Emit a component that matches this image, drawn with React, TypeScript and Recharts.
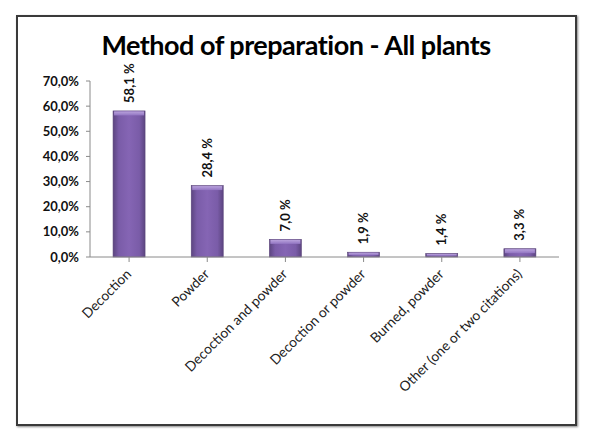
import React from 'react'
import { Bar, BarChart, LabelList, XAxis, YAxis } from 'recharts'

const methods = [
  'Decoction',
  'Powder',
  'Decoction and powder',
  'Decoction or powder',
  'Burned, powder',
  'Other (one or two citations)',
]
const shares = [58.1, 28.4, 7.0, 1.9, 1.4, 3.3]
const yTicks = [0, 10, 20, 30, 40, 50, 60, 70]

const data = methods.map((m, i) => ({ method: m, share: shares[i] }))

const FONT = 'Lato, "Open Sans", sans-serif'
const comma = (n: number) => n.toFixed(1).replace('.', ',')

// Excel-style bevelled bar: darker vertical edges and a light cap on top
function renderBar(props: any) {
  const x = Number(props.x)
  const y = Number(props.y)
  const width = Number(props.width)
  const height = Number(props.height)
  if (!(height > 0)) return <g />
  const cap = Math.min(4, height / 2)
  return (
    <g>
      <rect x={x} y={y} width={width} height={height} fill="url(#barFill)" stroke="#5a437a" strokeWidth={0.6} />
      <rect x={x + 1} y={y + 0.5} width={width - 2} height={cap} fill="url(#capFill)" />
    </g>
  )
}

function XTick({ x, y, payload }: any) {
  const ax = x + 3
  const ay = y + 11
  return (
    <text
      x={ax}
      y={ay}
      textAnchor="end"
      fontFamily={FONT}
      fontSize={13.8}
      fill="#222"
      transform={`rotate(-45, ${ax}, ${ay})`}
    >
      {payload.value}
    </text>
  )
}

function YTick({ x, y, payload }: any) {
  return (
    <text x={x - 5} y={y + 4.5} textAnchor="end" fontFamily={FONT} fontSize={13} fontWeight={700} fill="#111">
      {comma(payload.value)}%
    </text>
  )
}

function ValueLabel({ x, y, width, value }: any) {
  const cx = Number(x) + Number(width) / 2 + 4.5
  const cy = Number(y) - 8
  return (
    <text
      x={cx}
      y={cy}
      textAnchor="start"
      fontFamily={FONT}
      fontSize={13}
      fontWeight={700}
      fill="#111"
      transform={`rotate(-90, ${cx}, ${cy})`}
    >
      {comma(value)} %
    </text>
  )
}

export default function App() {
  return (
    <div style={{ position: 'absolute', left: 0, top: 0, width: 600, height: 447, background: '#fff' }}>
      <svg width={0} height={0} style={{ position: 'absolute' }}>
        <defs>
          <linearGradient id="barFill" x1="0" y1="0" x2="1" y2="0">
            <stop offset="0%" stopColor="#5c4580" />
            <stop offset="18%" stopColor="#7a5ca8" />
            <stop offset="50%" stopColor="#8565b4" />
            <stop offset="82%" stopColor="#7a5ca8" />
            <stop offset="100%" stopColor="#5c4580" />
          </linearGradient>
          <linearGradient id="capFill" x1="0" y1="0" x2="0" y2="1">
            <stop offset="0%" stopColor="#b9a2dc" />
            <stop offset="100%" stopColor="#9275c2" />
          </linearGradient>
        </defs>
      </svg>
      <div
        style={{
          position: 'absolute',
          left: 16,
          top: 15,
          width: 557,
          height: 407,
          border: '2px solid #3a3a3a',
          boxShadow: '1px 1px 2px #888',
        }}
      />
      <div
        style={{
          position: 'absolute',
          left: 4,
          top: 28,
          width: 584,
          textAlign: 'center',
          fontFamily: FONT,
          fontWeight: 700,
          fontSize: 27,
          letterSpacing: -0.5,
          color: '#000',
        }}
      >
        Method of preparation - All plants
      </div>
      <div style={{ position: 'absolute', left: 0, top: 0 }}>
        <BarChart
          width={600}
          height={447}
          data={data}
          margin={{ top: 81, right: 41, left: 0, bottom: 90 }}
          barCategoryGap="29.5%"
        >
          <XAxis
            dataKey="method"
            interval={0}
            height={100}
            tick={<XTick />}
            axisLine={{ stroke: '#8a8a8a' }}
            tickLine={{ stroke: '#8a8a8a' }}
            tickSize={5}
          />
          <YAxis
            domain={[0, 70]}
            ticks={yTicks}
            width={90}
            tick={<YTick />}
            axisLine={{ stroke: '#8a8a8a' }}
            tickLine={{ stroke: '#8a8a8a' }}
            tickSize={4}
          />
          <Bar dataKey="share" fill="#7a5ca8" shape={renderBar} isAnimationActive={false}>
            <LabelList dataKey="share" content={<ValueLabel />} />
          </Bar>
        </BarChart>
      </div>
    </div>
  )
}
